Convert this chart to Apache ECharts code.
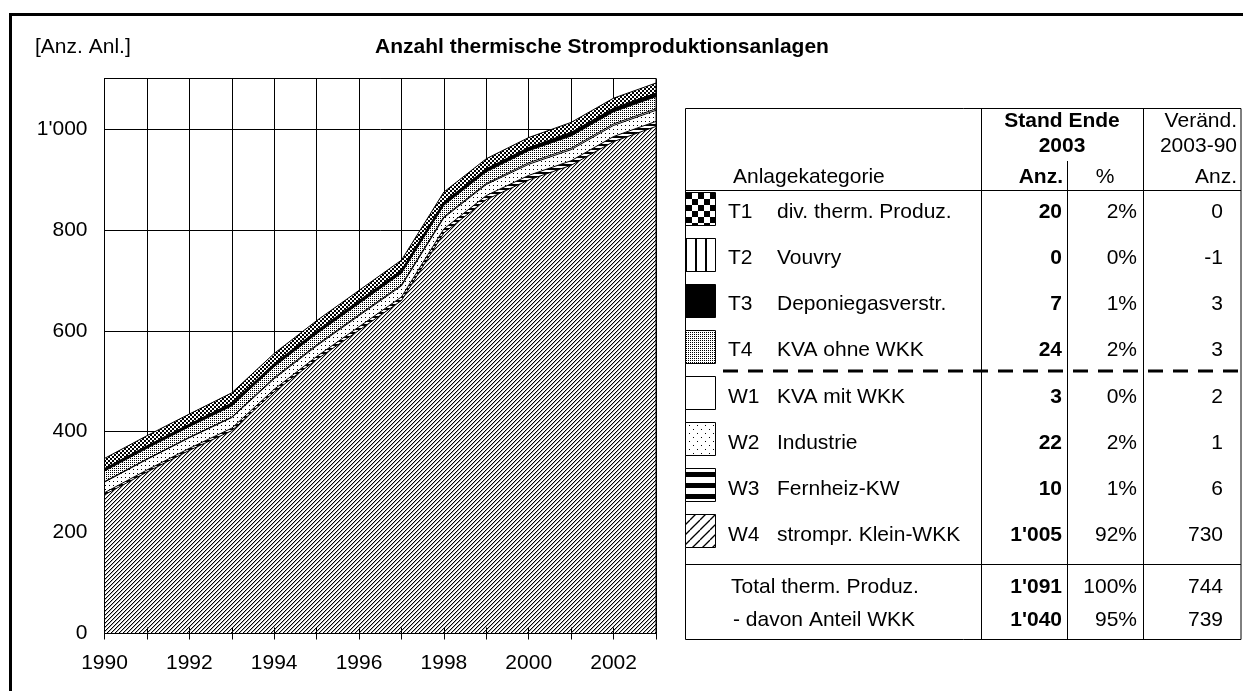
<!DOCTYPE html>
<html>
<head>
<meta charset="utf-8">
<title>Anzahl thermische Stromproduktionsanlagen</title>
<script src="https://cdn.jsdelivr.net/npm/echarts@6/dist/echarts.min.js"></script>
<style>
  html, body { margin: 0; padding: 0; background: #fff; }
  #chart { width: 1243px; height: 691px; }
</style>
</head>
<body>
<div id="chart"></div>
<script>
// Jahre (x-Achse)
const years = ['1990', '1991', '1992', '1993', '1994', '1995', '1996',
  '1997', '1998', '1999', '2000', '2001', '2002', '2003'];

// Anzahl Anlagen je Kategorie (Stapel von unten nach oben)
const w4 = [275, 320, 363, 402, 479, 543, 601, 660, 794, 860, 899, 928, 975, 1005];
const w3 = [4, 4, 4, 5, 5, 6, 7, 7, 8, 8, 9, 9, 10, 10];
const w2 = [21, 21, 21, 21, 21, 21, 22, 22, 22, 22, 22, 22, 22, 22];
const w1 = [1, 1, 1, 1, 2, 2, 2, 2, 2, 2, 3, 3, 3, 3];
const t4 = [21, 21, 21, 22, 22, 22, 22, 23, 23, 23, 24, 24, 24, 24];
const t3 = [4, 4, 4, 5, 5, 5, 5, 6, 6, 6, 6, 7, 7, 7];
const t2 = [1, 1, 1, 1, 1, 1, 1, 0, 0, 0, 0, 0, 0, 0];
const t1 = [20, 20, 20, 20, 20, 20, 20, 20, 20, 20, 20, 20, 20, 20];

// Tabelle rechts
const tblCodes = ['T1', 'T2', 'T3', 'T4', 'W1', 'W2', 'W3', 'W4'];
const tblNames = ['div. therm. Produz.', 'Vouvry', 'Deponiegasverstr.', 'KVA ohne WKK',
  'KVA mit WKK', 'Industrie', 'Fernheiz-KW', 'strompr. Klein-WKK'];
const tblAnz = ['20', '0', '7', '24', '3', '22', '10', "1'005"];
const tblPct = ['2%', '0%', '1%', '2%', '0%', '2%', '1%', '92%'];
const tblChg = ['0', '-1', '3', '3', '2', '1', '6', '730'];
const sumLabels = ['Total therm. Produz.', '- davon Anteil WKK'];
const sumAnz = ["1'091", "1'040"];
const sumPct = ['100%', '95%'];
const sumChg = ['744', '739'];

const FONT = 'Arial, "Liberation Sans", sans-serif';

// kleine Muster-Kacheln (Schraffuren wie im Excel-Original)
function makePattern (w, h, draw, extra) {
  const c = document.createElement('canvas');
  c.width = w;
  c.height = h;
  const g = c.getContext('2d');
  g.fillStyle = '#fff';
  g.fillRect(0, 0, w, h);
  g.fillStyle = '#000';
  g.strokeStyle = '#000';
  draw(g);
  return Object.assign({ image: c, repeat: 'repeat' }, extra || {});
}

// Muster im Diagramm
const areaW4 = makePattern(4, 4, g => {
  for (let i = 0; i < 4; i++) {
    g.fillStyle = '#000'; g.fillRect(i, 3 - i, 1, 1);
    g.fillStyle = '#b4b4b4'; g.fillRect(i, (4 - i) % 4, 1, 1);
  }
});
const areaW3 = makePattern(1, 4, g => g.fillRect(0, 0, 1, 2));
const areaW2 = makePattern(4, 4, g => g.fillRect(1, 1, 1, 1));
const areaT4 = makePattern(2, 2, g => g.fillRect(0, 0, 1, 1));
const areaT2 = makePattern(3, 1, g => g.fillRect(0, 0, 1, 1));
const areaT1 = makePattern(4, 4, g => { g.fillRect(0, 0, 2, 2); g.fillRect(2, 2, 2, 2); });

// Muster der Legenden-Kästchen (gröber)
const legT1 = makePattern(12, 12, g => { g.fillRect(0, 0, 6, 6); g.fillRect(6, 6, 6, 6); }, { x: 686, y: 193 });
const legT2 = makePattern(10, 1, g => g.fillRect(0, 0, 2, 1), { x: 695 });
const legT4 = makePattern(2, 2, g => g.fillRect(0, 0, 1, 1));
const legW2 = makePattern(8, 8, g => { g.fillRect(1, 1, 1, 1); g.fillRect(5, 5, 1, 1); });
const legW3 = makePattern(1, 11, g => g.fillRect(0, 0, 1, 5), { y: 472 });
const legW4 = makePattern(10, 10, g => {
  g.lineWidth = 1.3;
  for (let k = -1; k <= 1; k++) {
    g.beginPath(); g.moveTo(k * 10, 10); g.lineTo(k * 10 + 10, 0); g.stroke();
  }
});
const legFills = [legT1, legT2, '#000', legT4, '#fff', legW2, legW3, legW4];

function fmtThousand (v) {
  if (v > 1000) return '';
  const s = String(v);
  return s.length > 3 ? s.slice(0, s.length - 3) + "'" + s.slice(-3) : s;
}

function txt (text, x, y, align, bold) {
  return {
    type: 'text',
    z: 50,
    silent: true,
    style: {
      text: text, x: x, y: y,
      font: (bold ? 'bold ' : '') + '21px ' + FONT,
      fill: '#000',
      align: align, textAlign: align,
      verticalAlign: 'middle', textVerticalAlign: 'middle'
    }
  };
}
function hline (x1, x2, y, w, dash) {
  return { type: 'line', z: 40, silent: true,
    shape: { x1: x1, y1: y, x2: x2, y2: y },
    style: { stroke: '#000', lineWidth: w || 1, lineDash: dash || null } };
}
function vline (x, y1, y2) {
  return { type: 'line', z: 40, silent: true,
    shape: { x1: x, y1: y1, x2: x, y2: y2 },
    style: { stroke: '#000', lineWidth: 1 } };
}

// Tabelle aufbauen
const graphics = [];
// Rahmen um das ganze Bild
graphics.push({ type: 'rect', z: 60, silent: true,
  shape: { x: 10.5, y: 14.5, width: 1300, height: 700 },
  style: { fill: null, stroke: '#000', lineWidth: 3 } });
// Rahmen der Zeichnungsfläche
graphics.push({ type: 'rect', z: 30, silent: true,
  shape: { x: 104.5, y: 78.5, width: 551.5, height: 555 },
  style: { fill: null, stroke: '#000', lineWidth: 1 } });
graphics.push(txt('[Anz. Anl.]', 35, 47, 'left', false));
graphics.push(txt('Anzahl thermische Stromproduktionsanlagen', 375, 47, 'left', true));

graphics.push({ type: 'rect', z: 40, silent: true,
  shape: { x: 685.5, y: 108.5, width: 555.5, height: 531 },
  style: { fill: null, stroke: '#000', lineWidth: 1 } });
graphics.push(hline(685, 1241, 190.5));
graphics.push(hline(685, 1241, 564.5));
graphics.push(vline(981.5, 108, 640));
graphics.push(vline(1067.5, 161, 640));
graphics.push(vline(1143.5, 108, 640));
graphics.push(hline(723, 1241, 371, 3, [15, 10]));

graphics.push(txt('Stand Ende', 1062, 121, 'center', true));
graphics.push(txt('2003', 1062, 146, 'center', true));
graphics.push(txt('Veränd.', 1237, 121, 'right', false));
graphics.push(txt('2003-90', 1237, 146, 'right', false));
graphics.push(txt('Anlagekategorie', 733, 177, 'left', false));
graphics.push(txt('Anz.', 1063, 177, 'right', true));
graphics.push(txt('%', 1105, 177, 'center', false));
graphics.push(txt('Anz.', 1237, 177, 'right', false));

tblCodes.forEach((code, i) => {
  const y = 212 + 46.2 * i;
  graphics.push({ type: 'rect', z: 45, silent: true,
    shape: { x: 685.5, y: 192.5 + 46 * i, width: 30, height: 33 },
    style: { fill: legFills[i], stroke: '#000', lineWidth: 1 } });
  graphics.push(txt(code, 728, y, 'left', false));
  graphics.push(txt(tblNames[i], 777, y, 'left', false));
  graphics.push(txt(tblAnz[i], 1062, y, 'right', true));
  graphics.push(txt(tblPct[i], 1137, y, 'right', false));
  graphics.push(txt(tblChg[i], 1223, y, 'right', false));
});
sumLabels.forEach((lab, i) => {
  const y = 587 + 33 * i;
  graphics.push(txt(lab, i === 0 ? 731 : 733, y, 'left', false));
  graphics.push(txt(sumAnz[i], 1062, y, 'right', true));
  graphics.push(txt(sumPct[i], 1137, y, 'right', false));
  graphics.push(txt(sumChg[i], 1223, y, 'right', false));
});

function areaSeries (name, data, fill) {
  return {
    name: name,
    type: 'line',
    stack: 'anl',
    data: data,
    symbol: 'none',
    silent: true,
    lineStyle: { color: '#000', width: 1 },
    areaStyle: { color: fill, opacity: 1 },
    emphasis: { disabled: true }
  };
}

const chart = echarts.init(document.getElementById('chart'));
chart.setOption({
  animation: false,
  backgroundColor: '#fff',
  textStyle: { fontFamily: FONT },
  grid: { left: 104.5, top: 78.5, width: 551.5, height: 555, containLabel: false, outerBoundsMode: 'none' },
  xAxis: [{
    type: 'category',
    data: years,
    boundaryGap: false,
    axisLine: { lineStyle: { color: '#000', width: 1 } },
    axisTick: { show: true, interval: 0, length: 6, lineStyle: { color: '#000' } },
    axisLabel: { interval: 1, color: '#000', fontSize: 21, fontFamily: FONT, margin: 19 },
    splitLine: { show: true, interval: 0, lineStyle: { color: '#000', width: 1 } }
  }, {
    type: 'category',
    data: years,
    boundaryGap: false,
    position: 'bottom',
    z: 20,
    axisLine: { show: false },
    axisTick: { show: true, inside: true, interval: 0, length: 6, lineStyle: { color: '#000' } },
    axisLabel: { show: false },
    splitLine: { show: false }
  }],
  yAxis: {
    type: 'value',
    min: 0,
    max: 1100,
    interval: 200,
    axisLine: { show: true, lineStyle: { color: '#000' } },
    axisTick: { show: false },
    axisLabel: { color: '#000', fontSize: 21, fontFamily: FONT, margin: 17, showMaxLabel: false, formatter: fmtThousand },
    splitLine: { show: true, lineStyle: { color: '#000', width: 1 } }
  },
  series: [
    areaSeries('W4', w4, areaW4),
    areaSeries('W3', w3, areaW3),
    areaSeries('W2', w2, areaW2),
    areaSeries('W1', w1, '#fff'),
    areaSeries('T4', t4, areaT4),
    areaSeries('T3', t3, '#000'),
    areaSeries('T2', t2, areaT2),
    areaSeries('T1', t1, areaT1)
  ],
  graphic: graphics
});
</script>
</body>
</html>
